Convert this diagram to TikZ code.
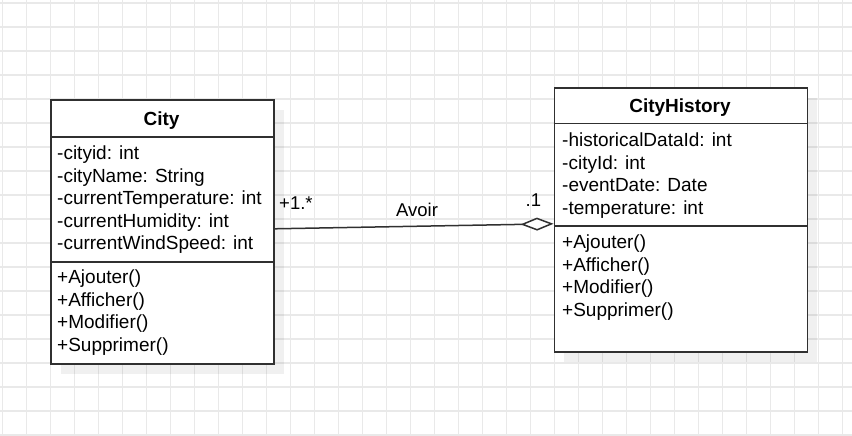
\documentclass[tikz,border=0pt]{standalone}
\usepackage{fontspec}
\setmainfont{Liberation Sans}
\usetikzlibrary{positioning,arrows.meta,shadows}
\definecolor{gridgray}{HTML}{E9E9E9}
\definecolor{linegray}{HTML}{303030}
\tikzset{
	classbox/.style={draw=linegray, line width=1.6pt, fill=white, inner sep=0pt, anchor=north west,
		drop shadow={shadow xshift=10pt, shadow yshift=-10pt, fill=black, opacity=.06}},
	divider/.style={draw=linegray, line width=1.6pt},
	classtitle/.style={font=\fontsize{19}{22.5}\selectfont\bfseries, anchor=base, inner sep=0pt},
	member/.style={font=\fontsize{19}{22.5}\selectfont, anchor=base west, inner sep=0pt},
	rolelabel/.style={font=\fontsize{18.5}{22}\selectfont, anchor=base west, inner sep=0pt},
	assoc/.style={draw=linegray, line width=1.5pt, -{Diamond[fill=white, length=33pt, width=13pt]}}
}
\begin{document}
\begin{tikzpicture}[x=1pt, y=-1pt]
		\useasboundingbox (0,0) rectangle (852,436);
		% Background grid
		\foreach \x in {2.5,26.5,...,850} \draw[gridgray, line width=1.4pt] (\x,0) -- (\x,436);
		\foreach \y in {3,27,...,436} \draw[gridgray, line width=1.4pt] (0,\y) -- (852,\y);
		% City
		\node[classbox, minimum width=223, minimum height=264] (city) at (50,99) {};
		\draw[divider] (50,137) -- (273,137);
		\draw[divider] (50,262) -- (273,262);
		\node[classtitle] (city-name) at (161.5,125.5) {City};
		\foreach \txt [count=\i from 0] in {-cityid: int, -cityName: String, -currentTemperature: int, -currentHumidity: int, -currentWindSpeed: int}
			\node[member] (city-attr\i) at (57,159.5+22.5*\i) {\txt};
		\foreach \txt [count=\i from 0] in {+Ajouter(), +Afficher(), +Modifier(), +Supprimer()}
			\node[member] (city-op\i) at (57,283.5+22.5*\i) {\txt};
		% CityHistory
		\node[classbox, minimum width=253, minimum height=264] (history) at (553.5,87) {};
		\draw[divider] (553.5,123.5) -- (806.5,123.5);
		\draw[divider] (553.5,226) -- (806.5,226);
		\node[classtitle] (history-name) at (680,112.5) {CityHistory};
		\foreach \txt [count=\i from 0] in {-historicalDataId: int, -cityId: int, -eventDate: Date, -temperature: int}
			\node[member] (history-attr\i) at (562,146.5+22.5*\i) {\txt};
		\foreach \txt [count=\i from 0] in {+Ajouter(), +Afficher(), +Modifier(), +Supprimer()}
			\node[member] (history-op\i) at (562,248.5+22.5*\i) {\txt};
		% Association
		\draw[assoc] ([yshift=3pt]city.east) -- ([yshift=-4pt]history.west);
		\node[rolelabel] (mult-city) at (279,209) {+1.*};
		\node[rolelabel] (assoc-name) at (396,216.5) {Avoir};
		\node[rolelabel] (mult-history) at (525.5,206.5) {.1};
	\end{tikzpicture}
\end{document}
